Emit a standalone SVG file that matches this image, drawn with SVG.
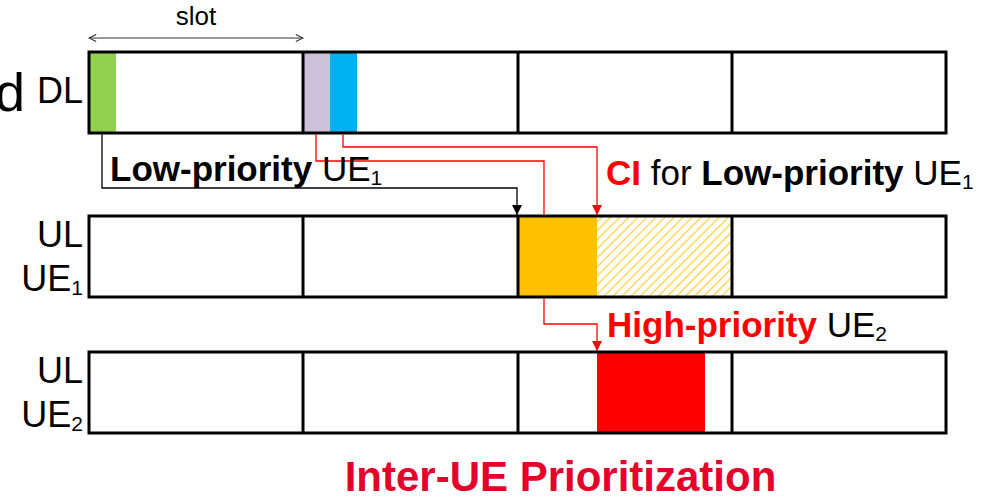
<svg xmlns="http://www.w3.org/2000/svg" width="1000" height="497" viewBox="0 0 1000 497">
  <defs>
    <style>
      text { font-family: "Liberation Sans", Arial, sans-serif; fill: #000; }
      .lbl { font-size: 36px; }
      .ann { font-size: 35px; }
      .b { font-weight: bold; }
      .red { fill: #FF0000; }
      .sub { font-size: 21px; }
      .frame { fill: none; stroke: #000; stroke-width: 3; }
      .bg { fill: #fff; }
      .div { stroke: #000; stroke-width: 3; }
      .wire { fill: none; stroke-width: 1.3; }
      .wk { stroke: #000; }
      .wr { stroke: #FF0000; }
    </style>
    <pattern id="hatch" width="6.4" height="6.4" patternUnits="userSpaceOnUse" patternTransform="rotate(45)">
      <line x1="3" y1="0" x2="3" y2="6.4" stroke="#FFC91F" stroke-width="1.1"/>
    </pattern>
    <marker id="arrK" viewBox="0 0 10 10" refX="10" refY="5" markerWidth="10" markerHeight="10" markerUnits="userSpaceOnUse" orient="auto">
      <path d="M0,0 L10,5 L0,10 Z" fill="#000"/>
    </marker>
    <marker id="arrR" viewBox="0 0 10 10" refX="10" refY="5" markerWidth="10" markerHeight="10" markerUnits="userSpaceOnUse" orient="auto">
      <path d="M0,0 L10,5 L0,10 Z" fill="#FF0000"/>
    </marker>
    <marker id="chev" viewBox="0 0 10 10" refX="9" refY="5" markerWidth="9" markerHeight="9" markerUnits="userSpaceOnUse" orient="auto-start-reverse">
      <path d="M1,1 L9,5 L1,9" fill="none" stroke="#333" stroke-width="1.2"/>
    </marker>
  </defs>

  <rect width="1000" height="497" fill="#fff"/>

  <!-- slot width indicator -->
  <g id="slot-marker">
    <line x1="89" y1="38" x2="303" y2="38" stroke="#333" stroke-width="1" marker-start="url(#chev)" marker-end="url(#chev)"/>
    <text x="196" y="25" text-anchor="middle" style="font-size:26px">slot</text>
  </g>

  <!-- downlink row -->
  <g id="dl-row">
    <text x="-5" y="111" style="font-size:54px">d</text>
    <text class="lbl" x="83" y="103" text-anchor="end">DL</text>
    <rect class="bg" x="89" y="52" width="857" height="81"/>
    <rect x="89" y="52" width="27" height="81" fill="#92D050"/>
    <rect x="303" y="52" width="27" height="81" fill="#CCC0DA"/>
    <rect x="330" y="52" width="27" height="81" fill="#00B0F0"/>
    <rect class="frame" x="89" y="52" width="857" height="81"/>
    <line class="div" x1="303" y1="52" x2="303" y2="133"/>
    <line class="div" x1="518" y1="52" x2="518" y2="133"/>
    <line class="div" x1="732" y1="52" x2="732" y2="133"/>
  </g>

  <!-- uplink row, UE1 -->
  <g id="ul-ue1-row">
    <text class="lbl" x="83" y="247" text-anchor="end">UL</text>
    <text class="lbl" x="83" y="291" text-anchor="end">UE<tspan class="sub" dy="4">1</tspan></text>
    <rect class="bg" x="89" y="216" width="857" height="81"/>
    <rect x="518" y="216" width="79" height="81" fill="#FFC000"/>
    <rect x="597" y="216" width="135" height="81" fill="url(#hatch)"/>
    <rect class="frame" x="89" y="216" width="857" height="81"/>
    <line class="div" x1="303" y1="216" x2="303" y2="297"/>
    <line class="div" x1="518" y1="216" x2="518" y2="297"/>
    <line class="div" x1="732" y1="216" x2="732" y2="297"/>
  </g>

  <!-- uplink row, UE2 -->
  <g id="ul-ue2-row">
    <text class="lbl" x="83" y="383" text-anchor="end">UL</text>
    <text class="lbl" x="83" y="427" text-anchor="end">UE<tspan class="sub" dy="4">2</tspan></text>
    <rect class="bg" x="89" y="352" width="857" height="81"/>
    <rect x="597" y="352" width="108" height="81" fill="#FF0000"/>
    <rect class="frame" x="89" y="352" width="857" height="81"/>
    <line class="div" x1="303" y1="352" x2="303" y2="433"/>
    <line class="div" x1="518" y1="352" x2="518" y2="433"/>
    <line class="div" x1="732" y1="352" x2="732" y2="433"/>
  </g>

  <!-- scheduling / cancellation links -->
  <g id="connectors">
    <path class="wire wk" d="M102,134.5 V188 H517 V215" marker-end="url(#arrK)"/>
    <path class="wire wr" d="M316,134.5 V161 H544 V214.5"/>
    <path class="wire wr" d="M544,298.5 V324 H597 V351" marker-end="url(#arrR)"/>
    <path class="wire wr" d="M343,134.5 V147 H597 V215" marker-end="url(#arrR)"/>
  </g>

  <!-- annotations -->
  <g id="labels">
    <text class="ann" x="110" y="181"><tspan class="b">Low-priority</tspan> UE<tspan class="sub" dy="4">1</tspan></text>
    <text class="ann" x="606" y="185"><tspan class="b red">CI</tspan> for <tspan class="b">Low-priority</tspan> UE<tspan class="sub" dy="4">1</tspan></text>
    <text class="ann" x="607" y="337"><tspan class="b red">High-priority</tspan> UE<tspan class="sub" dy="4">2</tspan></text>
    <text x="560.5" y="491" text-anchor="middle" class="b" style="font-size:42px;fill:#E4002B">Inter-UE Prioritization</text>
  </g>
</svg>
